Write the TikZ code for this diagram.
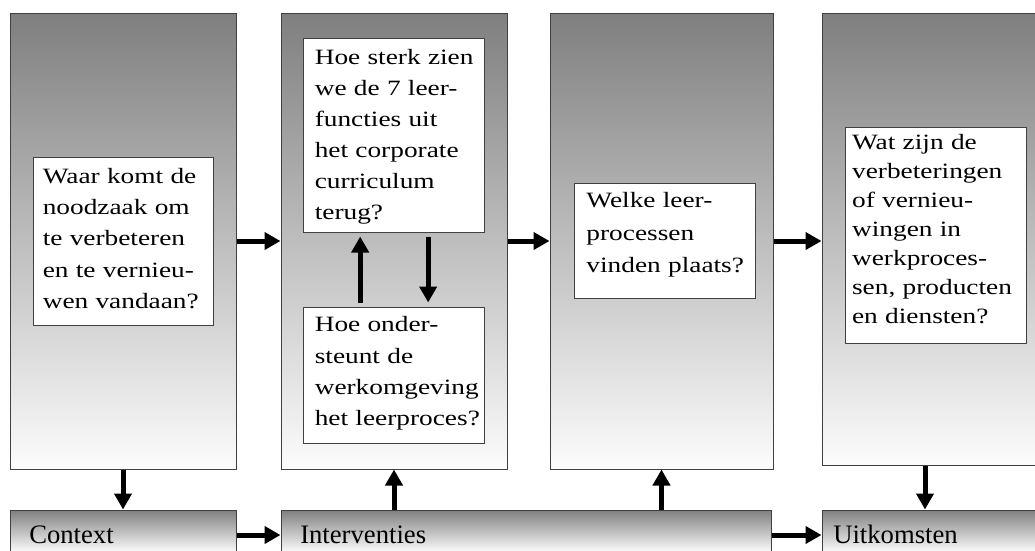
\documentclass[tikz,border=0pt]{standalone}
\usepackage{fontspec}
\setmainfont{Liberation Serif}
\newfontfamily\qfont[FakeStretch=1.25]{Liberation Serif}
\usetikzlibrary{arrows.meta,fit}

\definecolor{edgegray}{HTML}{404040}
\definecolor{shadetop}{HTML}{7F7F7F}
\definecolor{shadebottom}{HTML}{FCFCFC}

\begin{document}
\begin{tikzpicture}[x=0.75pt,y=-0.75pt,
  column/.style={draw=edgegray, line width=0.75pt, top color=shadetop,
    bottom color=shadebottom, inner sep=0pt},
  qbox/.style={draw=edgegray, line width=0.75pt, fill=white, inner sep=0pt},
  qtext/.style={anchor=base west, inner sep=0pt, text width=200pt, align=left,
    font=\qfont\fontsize{16.4pt}{#1}\selectfont},
  qtext/.default=23.4pt,
  bartext/.style={anchor=base west, inner sep=0pt,
    font=\fontsize{20pt}{24pt}\selectfont},
  arr/.style={line width=3.75pt, -{Triangle[width=12.75pt,length=12pt]}}
]
\path[use as bounding box, fill=white] (0,0) rectangle (1035,550);

% four stage columns
\node[column, fit={(10,13) (236,469)}] (c1) {};
\node[column, fit={(281,13) (507,469)}] (c2) {};
\node[column, fit={(550,13) (773,469)}] (c3) {};
\node[column, fit={(822,13) (1040,465)}] (c4) {};

% bottom bars
\node[column, fit={(10,510) (236,552)}] (b1) {};
\node[column, fit={(281,510) (771,552)}] (b2) {};
\node[column, fit={(822,510) (1040,552)}] (b3) {};

\node[bartext] (t1) at (29,543) {Context};
\node[bartext] (t2) at (300,543) {Interventies};
\node[bartext] (t3) at (833,543) {Uitkomsten};

% question boxes
\node[qbox, fit={(33,157) (213,325)}] (q1) {};
\node[qbox, fit={(303,38) (484,232)}] (q2a) {};
\node[qbox, fit={(303,307) (484,443)}] (q2b) {};
\node[qbox, fit={(574,183) (755,298)}] (q3) {};
\node[qbox, fit={(845,127) (1026,343)}] (q4) {};

\node[qtext] (q1t) at ([xshift=7.5pt,yshift=-20.25pt]q1.north west)
  {Waar komt de\\noodzaak om\\te verbeteren\\en te vernieu-\\wen vandaan?};
\node[qtext=23.2pt] (q2at) at ([xshift=9pt,yshift=-20.25pt]q2a.north west)
  {Hoe sterk zien\\we de 7 leer-\\functies uit\\het corporate\\curriculum\\terug?};
\node[qtext=23.5pt] (q2bt) at ([xshift=9pt,yshift=-19pt]q2b.north west)
  {Hoe onder-\\steunt de\\werkomgeving\\het leerproces?};
\node[qtext=24.4pt] (q3t) at ([xshift=9.5pt,yshift=-19pt]q3.north west)
  {Welke leer-\\processen\\vinden plaats?};
\node[qtext=21.7pt] (q4t) at ([xshift=5.5pt,yshift=-17.5pt]q4.north west)
  {Wat zijn de\\verbeteringen\\of vernieu-\\wingen in\\werkproces-\\sen, producten\\en diensten?};

% connectors between stages
\draw[arr] (c1.east) -- (c2.west);
\draw[arr] (c2.east) -- (c3.west);
\draw[arr] (c3.east) -- (c3.east -| c4.west);
\draw[arr] (c1.south) -- (b1.north);
\draw[arr] (c2.south |- b2.north) -- (c2.south);
\draw[arr] (c3.south |- b2.north) -- (c3.south);
\draw[arr] ([xshift=-4.5pt]c4.south) -- ([xshift=-4.5pt]c4.south |- b3.north);
\draw[arr] ([yshift=-3pt]b1.east) -- ([yshift=-3pt]b2.west);
\draw[arr] ([yshift=-3pt]b2.east) -- ([yshift=-3pt]b3.west);

% loop between the two intervention questions
\draw[arr, shorten <=3pt, shorten >=3pt] ([xshift=-25pt]q2b.north) -- ([xshift=-25pt]q2a.south);
\draw[arr, shorten <=3pt, shorten >=3pt] ([xshift=26pt]q2a.south) -- ([xshift=26pt]q2b.north);
\end{tikzpicture}
\end{document}
